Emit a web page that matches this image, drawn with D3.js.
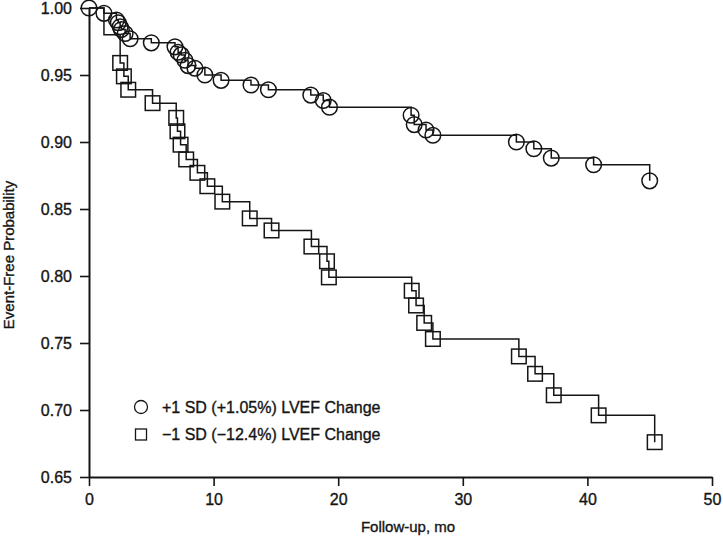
<!DOCTYPE html>
<html>
<head>
<meta charset="utf-8">
<script src="https://cdn.jsdelivr.net/npm/d3@7"></script>
<style>
  html, body { margin: 0; padding: 0; background: #fff; }
  svg text { font-family: "Liberation Sans", Arial, Helvetica, sans-serif; fill: #151515; stroke: #151515; stroke-width: 0.35px; }
</style>
</head>
<body>
<div class="km-container"></div>
<script>
// follow-up months and event-free probability
const plusMonths = [0, 1.2, 2.2, 2.35, 2.5, 2.6, 2.9, 3.3, 5.0, 6.9, 7.15, 7.4, 7.7, 7.95, 8.5, 9.3,
  10.6, 13.0, 14.4, 17.8, 18.8, 19.3, 25.85, 26.1, 27.05, 27.6, 34.3, 35.7, 37.1, 40.5, 45.0];
const plusSurvival = [1.000, 0.996, 0.991, 0.989, 0.986, 0.984, 0.981, 0.977, 0.974, 0.971, 0.967, 0.965, 0.961, 0.957, 0.955, 0.950,
  0.946, 0.9425, 0.939, 0.935, 0.931, 0.926, 0.920, 0.913, 0.909, 0.905, 0.900, 0.895, 0.888, 0.883, 0.871];

const minusMonths = [0, 1.2, 2.5, 2.8, 3.15, 5.1, 7.0, 7.1, 7.35, 7.8, 8.7, 9.5, 10.7, 12.9, 14.65,
  17.85, 19.1, 19.25, 25.9, 26.25, 26.9, 27.6, 34.5, 35.8, 37.3, 40.9, 45.4];
const minusSurvival = [1.000, 0.980, 0.959, 0.949, 0.939, 0.929, 0.918, 0.908, 0.898, 0.887, 0.877, 0.867, 0.8555, 0.843, 0.834,
  0.822, 0.811, 0.799, 0.789, 0.778, 0.765, 0.753, 0.740, 0.727, 0.711, 0.696, 0.676];

const xTicks = [0, 10, 20, 30, 40, 50];
const yTicks = [0.65, 0.70, 0.75, 0.80, 0.85, 0.90, 0.95, 1.00];
const legendLabels = ['+1 SD (+1.05%) LVEF Change', '\u22121 SD (\u221212.4%) LVEF Change'];

const width = 723;
const height = 536;
const margin = { top: 8, right: 10, bottom: 59, left: 89 };
const ink = '#151515';

const series = [
  { name: 'plus', shape: 'circle', firstMarker: 0, points: plusMonths.map((t, i) => ({ t: t, s: plusSurvival[i] })) },
  // the first drop of the -1 SD curve has no visible marker
  { name: 'minus', shape: 'square', firstMarker: 2, points: minusMonths.map((t, i) => ({ t: t, s: minusSurvival[i] })) }
];

const svg = d3.select('.km-container')
  .append('svg')
  .attr('width', width)
  .attr('height', height)
  .attr('xmlns', 'http://www.w3.org/2000/svg');

const x = d3.scaleLinear().domain([0, 50]).range([margin.left, width - margin.right - 1]);
const y = d3.scaleLinear().domain([0.65, 1.0]).range([height - margin.bottom, margin.top]);

// axes
const xAxis = svg.append('g')
  .attr('class', 'x-axis')
  .attr('transform', `translate(0, ${y(0.65)})`)
  .call(d3.axisBottom(x).tickValues(xTicks).tickFormat(d3.format('d')).tickSize(9).tickSizeOuter(0).tickPadding(8));
const yAxis = svg.append('g')
  .attr('class', 'y-axis')
  .attr('transform', `translate(${x(0)}, 0)`)
  .call(d3.axisLeft(y).tickValues(yTicks).tickFormat(d3.format('.2f')).tickSize(9).tickSizeOuter(0).tickPadding(8));

[xAxis, yAxis].forEach(axis => {
  axis.select('.domain').attr('stroke', ink).attr('stroke-width', 2);
  axis.selectAll('.tick line').attr('stroke', ink).attr('stroke-width', 1.6);
  axis.selectAll('.tick text')
    .attr('font-size', 16)
    .attr('fill', ink)
    .attr('font-family', '"Liberation Sans", Arial, Helvetica, sans-serif');
});

svg.append('text')
  .attr('class', 'x-title')
  .attr('x', 408)
  .attr('y', 532)
  .attr('text-anchor', 'middle')
  .attr('font-size', 15)
  .text('Follow-up, mo');

svg.append('text')
  .attr('class', 'y-title')
  .attr('transform', 'translate(14, 255) rotate(-90)')
  .attr('text-anchor', 'middle')
  .attr('font-size', 15)
  .text('Event-Free Probability');

// step curves
const step = d3.line()
  .x(d => x(d.t))
  .y(d => y(d.s))
  .curve(d3.curveStepAfter);

const curves = svg.append('g').attr('class', 'curves-container');
curves.selectAll('path')
  .data(series)
  .join('path')
  .attr('fill', 'none')
  .attr('stroke', ink)
  .attr('stroke-width', 1.5)
  .attr('d', d => step(d.points));

// markers at each drop
const markers = svg.append('g').attr('class', 'markers-container');
series.forEach(sr => {
  const pts = sr.points.slice(sr.firstMarker);
  if (sr.shape === 'circle') {
    markers.selectAll('.m-' + sr.name)
      .data(pts)
      .join('circle')
      .attr('class', 'm-' + sr.name)
      .attr('cx', d => x(d.t))
      .attr('cy', d => y(d.s))
      .attr('r', 7.8)
      .attr('fill', 'none')
      .attr('stroke', ink)
      .attr('stroke-width', 1.5);
  } else {
    markers.selectAll('.m-' + sr.name)
      .data(pts)
      .join('rect')
      .attr('class', 'm-' + sr.name)
      .attr('x', d => x(d.t) - 7.3)
      .attr('y', d => y(d.s) - 7.3)
      .attr('width', 14.6)
      .attr('height', 14.6)
      .attr('fill', 'none')
      .attr('stroke', ink)
      .attr('stroke-width', 1.5);
  }
});

// legend
const legend = svg.append('g')
  .attr('class', 'legend-container')
  .attr('transform', 'translate(141, 407)');
legend.append('circle')
  .attr('cx', 0)
  .attr('cy', 0)
  .attr('r', 6.5)
  .attr('fill', 'none')
  .attr('stroke', ink)
  .attr('stroke-width', 1.3);
legend.append('rect')
  .attr('x', -5.5)
  .attr('y', 27.5 - 5.5)
  .attr('width', 11)
  .attr('height', 11)
  .attr('fill', 'none')
  .attr('stroke', ink)
  .attr('stroke-width', 1.3);
legend.selectAll('.legend-label')
  .data(legendLabels)
  .join('text')
  .attr('class', 'legend-label')
  .attr('x', 21)
  .attr('y', (d, i) => i * 27.5)
  .attr('dy', '0.35em')
  .attr('font-size', 16)
  .text(d => d);
</script>
</body>
</html>
